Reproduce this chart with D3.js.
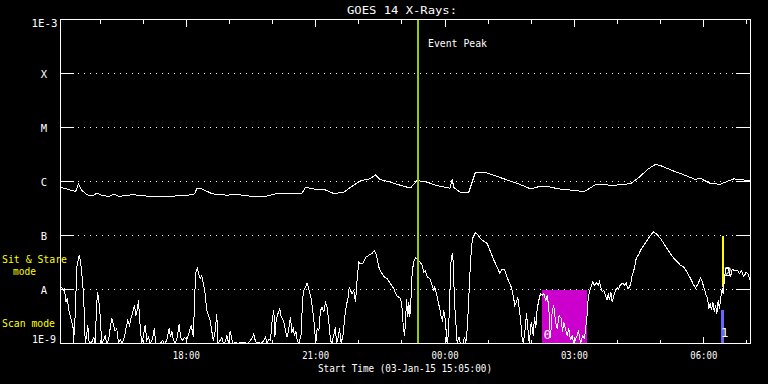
<!DOCTYPE html>
<html><head><meta charset="utf-8">
<script src="https://cdn.jsdelivr.net/npm/d3@7"></script>
<style>html,body{margin:0;padding:0;background:#000;}svg{display:block;}</style>
</head><body>
<svg id="chart" width="768" height="384"></svg>
<script>
// ---------- data ----------
const startTime = "2015-01-03T15:05:00Z";
const endTime   = "2015-01-04T07:05:00Z";
const titleText = "GOES 14 X-Rays:";
const xAxisTitle = "Start Time (03-Jan-15 15:05:00)";

// Y axis (flux, W/m^2) and class labels
const yTickValues = [1e-9, 1e-8, 1e-7, 1e-6, 1e-5, 1e-4, 1e-3];
const yTickLabels = ["1E-9", "A", "B", "C", "M", "X", "1E-3"];

// Long channel (1-8 A): minutes after start, flux
const longMin = [0,7,21,25,30,37,44,51,58,67,75,81,100,118,132,151,169,185,187,190,197,211,230,248,267,285,299,318,336,341,348,357,366,380,394,403,417,431,438,445,459,478,487,496,510,524,542,545,547,557,568,577,589,598,617,635,654,665,679,693,712,728,735,744,754,768,781,793,805,818,828,837,851,870,883,890,904,918,925,937,948,959];
const longFlux = [7.8e-7,7.4e-7,6.5e-7,8.9e-7,6.8e-7,5.7e-7,5.4e-7,6.1e-7,5.5e-7,5.3e-7,5.8e-7,5.3e-7,5.7e-7,5.4e-7,5.2e-7,5.3e-7,5.5e-7,5.7e-7,6.1e-7,7.6e-7,7.3e-7,5.9e-7,5.6e-7,5.7e-7,5.3e-7,5.3e-7,5.9e-7,6.0e-7,6.1e-7,7.8e-7,7.5e-7,7.0e-7,7.2e-7,6.0e-7,6.3e-7,7.7e-7,1.03e-6,1.12e-6,1.33e-6,1.08e-6,9.7e-7,8.1e-7,7.6e-7,1.04e-6,9.7e-7,8.4e-7,7.5e-7,1.12e-6,7.8e-7,6.2e-7,6.3e-7,1.45e-6,1.49e-6,1.37e-6,1.12e-6,9.3e-7,7.3e-7,8.0e-7,8.0e-7,7.3e-7,6.9e-7,6.5e-7,7.3e-7,8.7e-7,8.9e-7,8.4e-7,8.8e-7,9.1e-7,1.20e-6,1.72e-6,2.09e-6,1.92e-6,1.60e-6,1.29e-6,1.09e-6,1.15e-6,9.2e-7,8.9e-7,9.7e-7,1.12e-6,1.08e-6,1.03e-6];

// Short channel (0.5-4 A): minutes after start, flux
const shortMin = [1.8,3.8,5.6,7.4,9.3,12.1,15.7,17.7,18.1,20.5,22.7,26.0,27.8,29.6,31.6,33.4,34.4,36.6,38.0,39.9,43.5,46.3,48.3,50.1,51.5,52.9,54.7,56.1,57.5,59.8,62.2,64.4,66.8,69.1,71.4,73.7,76.1,78.3,80.7,83.1,85.3,89.0,91.4,93.6,96.0,98.4,100.6,103.0,104.8,106.7,108.5,109.9,111.3,113.1,115.5,117.8,120.1,122.4,124.8,128.0,130.4,132.6,138.7,141.9,144.7,147.9,151.2,153.0,154.9,157.2,159.6,162.4,165.1,167.0,169.7,172.5,175.7,179.1,181.8,185.0,186.4,188.2,190.2,192.0,194.4,196.6,199.4,201.3,203.5,205.9,208.3,210.5,212.5,215.2,217.5,218.9,222.2,224.4,226.8,229.1,231.4,233.7,236.1,238.3,240.3,243.5,245.8,255.0,259.8,264.3,267.1,268.9,270.9,272.7,275.9,279.2,282.8,285.2,287.6,289.8,292.2,294.5,296.8,298.2,300.1,302.3,305.1,307.1,309.8,311.7,313.5,315.4,317.6,320.0,321.8,323.8,325.6,327.4,329.3,331.5,334.9,336.7,338.5,343.2,346.0,348.8,351.6,353.4,355.2,357.1,359.4,361.7,364.1,366.3,368.7,371.1,373.3,375.7,377.5,382.6,384.0,385.8,388.2,390.5,393.3,395.5,397.9,399.7,401.7,403.5,405.8,408.1,410.4,412.8,415.0,417.4,421.1,424.3,428.9,433.7,436.9,439.6,442.8,446.2,449.8,454.5,459.1,463.7,467.5,470.7,473.3,475.6,477.0,478.8,480.4,481.4,483.2,484.6,486.0,487.9,489.3,491.5,493.9,497.1,499.9,503.2,505.5,507.8,510.2,513.8,517.2,519.4,520.8,523.1,525.5,527.7,529.7,531.5,533.3,535.2,536.6,538.0,539.8,541.6,543.6,545.0,546.3,548.2,550.0,551.9,554.2,556.5,560.3,562.1,563.9,565.9,567.6,569.5,571.4,573.2,577.4,580.6,584.3,588.9,593.7,598.3,602.9,607.6,611.2,614.6,617.7,620.5,623.7,627.1,629.8,632.1,634.4,636.2,638.2,640.0,641.8,643.8,646.6,648.3,650.2,652.1,654.9,657.7,659.5,661.3,663.2,665.5,667.8,670.2,672.4,675.2,677.1,679.3,681.7,684.1,686.3,688.7,691.0,693.8,696.6,698.4,700.2,702.6,704.9,707.2,709.6,711.9,714.2,718.8,720.7,723.5,726.3,729.0,732.3,734.2,736.0,738.8,740.6,742.5,745.3,748.1,749.9,751.7,753.7,755.9,758.3,760.6,762.0,763.8,765.6,767.6,769.8,772.2,774.6,776.8,779.1,782.3,785.1,787.1,789.3,791.6,793.5,795.4,798.2,801.0,803.8,807.0,811.6,816.3,820.9,825.5,830.2,834.8,839.4,844.1,848.7,853.3,858.0,862.6,867.2,871.9,876.5,881.1,883.5,887.3,890.4,892.8,895.6,898.3,900.2,902.0,904.0,905.8,907.6,909.6,911.3,913.2,915.1,916.9,918.3,920.7,922.0,923.4,925.2,929.0,932.2,934.6,938.2,941.5,944.7,947.5,950.7,954.0,956.8,959.0];
const shortFlux = [1.1e-8,9.6e-9,1.03e-8,5.8e-9,6.7e-9,3.8e-9,2.5e-9,1.9e-9,1e-9,3.5e-9,2.6e-8,4.3e-8,3.4e-8,2.0e-8,9.6e-9,3.1e-9,1e-9,1.5e-9,2.2e-9,1e-9,1.06e-9,1.3e-9,1e-9,4.7e-9,8.9e-9,6.7e-9,4.1e-9,1.9e-9,1e-9,1.14e-9,1.4e-9,1e-9,1.14e-9,1.9e-9,2.9e-9,2.2e-9,1.7e-9,1.9e-9,1e-9,1.2e-9,1e-9,1.3e-9,2.0e-9,2.7e-9,2.2e-9,3.1e-9,3.8e-9,5.1e-9,3.3e-9,4.1e-9,6.3e-9,3.1e-9,1.7e-9,1e-9,1.4e-9,2.2e-9,1.14e-9,1.3e-9,1e-9,1.2e-9,1.9e-9,1e-9,1e-9,1.14e-9,1e-9,1.14e-9,1.9e-9,1.3e-9,1.7e-9,1.14e-9,1e-9,1.3e-9,2.3e-9,1.3e-9,1.14e-9,1.3e-9,1.2e-9,1.6e-9,2.2e-9,1.3e-9,6.3e-9,2.0e-8,2.5e-8,2.0e-8,1.58e-8,1.8e-8,1.19e-8,8.3e-9,4.1e-9,3.3e-9,2.7e-9,1.7e-9,1.14e-9,1.7e-9,3.5e-9,1e-9,1.14e-9,1.3e-9,1e-9,1.06e-9,1.4e-9,1e-9,1.7e-9,1.2e-9,1e-9,1.06e-9,1e-9,1.06e-9,1e-9,1.14e-9,1.3e-9,1.5e-9,1.14e-9,1e-9,1.06e-9,1e-9,1.14e-9,1.3e-9,1e-9,1.2e-9,1.14e-9,2.7e-9,4.1e-9,1.3e-9,2.7e-9,3.5e-9,4.4e-9,3.1e-9,2.7e-9,2.2e-9,1.6e-9,1.3e-9,1.9e-9,3.1e-9,1.6e-9,1.9e-9,1.4e-9,1.7e-9,1.14e-9,1e-9,1.5e-9,6.3e-9,9.6e-9,1.31e-8,9.6e-9,6.7e-9,3.5e-9,2.0e-9,1e-9,1.9e-9,1.7e-9,4.1e-9,4.7e-9,3.8e-9,5.8e-9,4.7e-9,2.5e-9,1.14e-9,1e-9,2.0e-9,1e-9,1.2e-9,1.9e-9,1e-9,1.5e-9,3.1e-9,5.4e-9,6.3e-9,1.1e-8,9.6e-9,8.3e-9,9.6e-9,5.8e-9,1.58e-8,3.2e-8,3.0e-8,3.1e-8,3.9e-8,4.3e-8,4.7e-8,5.3e-8,4.3e-8,2.6e-8,2.1e-8,1.74e-8,1.58e-8,1.28e-8,1.03e-8,7.7e-9,7.2e-9,6.8e-9,4.1e-9,1.9e-9,1.4e-9,3.1e-9,6.8e-9,3.1e-9,5.9e-9,3.1e-9,7.8e-9,2.1e-8,3.3e-8,3.9e-8,3.5e-8,3.3e-8,2.8e-8,2.1e-8,2.2e-8,1.72e-8,1.6e-8,1.2e-8,9.7e-9,1.12e-8,8.4e-9,5.9e-9,4.4e-9,3.1e-9,2.7e-9,4.1e-9,2.9e-9,1.65e-9,1e-9,1.5e-9,7.8e-9,4.0e-8,4.4e-8,3.3e-8,5.9e-9,2.5e-9,1e-9,1.33e-9,1e-9,1e-9,1.33e-9,1e-9,1.9e-9,5.1e-9,1.84e-8,5.0e-8,8.8e-8,1.14e-7,1.04e-7,8.8e-8,7.8e-8,7.1e-8,5.0e-8,3.5e-8,2.6e-8,1.98e-8,2.4e-8,2.3e-8,1.84e-8,1.39e-8,1.12e-8,7.8e-9,5.1e-9,5.9e-9,7.3e-9,4.4e-9,2.9e-9,1.4e-9,1e-9,1.9e-9,3.6e-9,1.9e-9,1e-9,2.5e-9,1.4e-9,3.1e-9,1.9e-9,4.4e-9,6.3e-9,8.4e-9,7.8e-9,8.4e-9,6.3e-9,7.8e-9,4.8e-9,1.24e-9,3.9e-9,5.1e-9,2.5e-9,1.9e-9,3.3e-9,2.9e-9,1.65e-9,2.5e-9,1.9e-9,1.4e-9,1.9e-9,1.15e-9,1.4e-9,1e-9,1.4e-9,1.76e-9,1e-9,1.4e-9,1.24e-9,2.9e-9,6.8e-9,9.1e-9,1.2e-8,1.39e-8,1.17e-8,1.35e-8,1.2e-8,1.39e-8,1.12e-8,9.1e-9,9.7e-9,7.8e-9,6.3e-9,8.4e-9,6.3e-9,9.1e-9,5.9e-9,7.8e-9,9.7e-9,1.07e-8,1.04e-8,1.24e-8,1.29e-8,1.2e-8,1.33e-8,1.04e-8,1.12e-8,1.29e-8,1.84e-8,2.4e-8,3.75e-8,4.3e-8,5.3e-8,6.6e-8,8.2e-8,1.01e-7,1.17e-7,1.04e-7,8.8e-8,7.1e-8,5.7e-8,4.6e-8,3.75e-8,3.3e-8,2.8e-8,2.6e-8,2.1e-8,1.6e-8,1.2e-8,1.07e-8,1.29e-8,1.65e-8,1.39e-8,1.04e-8,7.8e-9,6.8e-9,4.4e-9,5.5e-9,4.1e-9,5.9e-9,3.9e-9,5.1e-9,3.6e-9,6.3e-9,4.4e-9,6.8e-9,1.04e-8,8.4e-9,1.39e-8,2.4e-8,2.5e-8,1.72e-8,2.4e-8,2.2e-8,2.3e-8,1.98e-8,2.2e-8,1.72e-8,2.1e-8,1.9e-8,1.49e-8];

// Event peak (minutes after start)
const eventPeakMin = 497;
const eventPeakLabel = "Event Peak";

// Observation-mode markers: [startMin, endMin], [lowFlux, highFlux]
const modeSpans = [
  {name: "window0", range: [670.6, 733.2], flux: [1e-9, 1e-8], color: "#cc00cc"},
  {name: "scan",    range: [918.3, 922.5], flux: [1e-9, 4.1e-9], color: "#6666ff"},
  {name: "sitStare",range: [921.0, 923.8], flux: [1.13e-8, 1e-7], color: "#ffff00"}
];
// Annotation numbers
const annotMin  = [677.6, 924.2, 928.7];
const annotFlux = [1.47e-9, 1.6e-9, 2.16e-8];
const annotText = ["0", "1", "2"];

const modeLabels = ["Sit & Stare", "mode", "Scan mode"];

// ---------- drawing ----------
const svg = d3.select("#chart");
const FONT = "DejaVu Sans Mono, monospace";
const FS = 10.5;
svg.append("rect").attr("width", 768).attr("height", 384).attr("fill", "#000");

const t0 = new Date(startTime), t1 = new Date(endTime);
const tm = m => new Date(t0.getTime() + m * 60000);
const x = d3.scaleUtc().domain([t0, t1]).range([60.5, 750.5]);
const y = d3.scaleLog().domain([1e-9, 1e-3]).range([343.5, 19.5]);

function txt(sel, len) {
  if (len) sel.attr("textLength", len).attr("lengthAdjust", "spacingAndGlyphs");
  return sel;
}

const defs = svg.append("defs");
defs.append("clipPath").attr("id", "clip").append("rect")
  .attr("x", 60).attr("y", 19).attr("width", 691).attr("height", 325);

// dotted grid + side ticks
const mids = yTickValues.slice(1, -1);
const grid = svg.append("g").attr("stroke", "#fff").attr("shape-rendering", "crispEdges");
mids.forEach(v => {
  const yy = Math.round(y(v) - 0.5) + 0.5;
  grid.append("line").attr("x1", 60.5).attr("x2", 74).attr("y1", yy).attr("y2", yy);
  grid.append("line").attr("x1", 736).attr("x2", 750.5).attr("y1", yy).attr("y2", yy);
  grid.append("line").attr("x1", 78).attr("x2", 736).attr("y1", yy).attr("y2", yy)
    .attr("stroke-dasharray", "1,5");
});

// mode rectangles
const plot = svg.append("g").attr("clip-path", "url(#clip)");
modeSpans.forEach(s => {
  const xa = x(tm(s.range[0])), xb = x(tm(s.range[1]));
  const ya = y(s.flux[1]), yb = y(s.flux[0]);
  plot.append("rect").attr("x", xa).attr("y", ya).attr("width", xb - xa).attr("height", yb - ya)
    .attr("fill", s.color).attr("shape-rendering", "crispEdges");
});

// curves
const line = d3.line().x(d => x(tm(d[0]))).y(d => y(d[1]));
const longData = longMin.map((m, i) => [m, longFlux[i]]);
const shortData = shortMin.map((m, i) => [m, shortFlux[i]]);
[longData, shortData].forEach(data => {
  plot.append("path").datum(data).attr("d", line)
    .attr("fill", "none").attr("stroke", "#fff").attr("stroke-width", 1)
    .attr("shape-rendering", "crispEdges");
});

// annotations
annotText.forEach((t, i) => {
  svg.append("text").attr("x", x(tm(annotMin[i]))).attr("y", y(annotFlux[i]) + 5)
    .attr("text-anchor", "middle").attr("fill", "#fff")
    .attr("font-family", FONT).attr("font-size", 13).text(t);
});

// event peak line
const xe = x(tm(eventPeakMin));
svg.append("line").attr("x1", xe).attr("x2", xe).attr("y1", 19.5).attr("y2", 343.5)
  .attr("stroke", "#99cc00").attr("stroke-width", 2).attr("shape-rendering", "crispEdges");
txt(svg.append("text").attr("x", 428).attr("y", 47).attr("fill", "#fff")
  .attr("font-family", FONT).attr("font-size", FS), 59).text(eventPeakLabel);

// frame
svg.append("rect").attr("x", 60.5).attr("y", 19.5).attr("width", 690).attr("height", 324)
  .attr("fill", "none").attr("stroke", "#fff").attr("shape-rendering", "crispEdges");

// x ticks
const hours = x.ticks(d3.utcHour.every(1));
const tg = svg.append("g").attr("stroke", "#fff").attr("shape-rendering", "crispEdges");
hours.forEach(h => {
  const xx = Math.round(x(h) - 0.5) + 0.5;
  const major = h.getUTCHours() % 3 === 0;
  const len = major ? 7 : 4;
  tg.append("line").attr("x1", xx).attr("x2", xx).attr("y1", 19.5).attr("y2", 19.5 + len);
  tg.append("line").attr("x1", xx).attr("x2", xx).attr("y1", 343.5).attr("y2", 343.5 - len);
  if (major) {
    txt(svg.append("text").attr("x", x(h)).attr("y", 358.5).attr("text-anchor", "middle")
      .attr("fill", "#fff").attr("font-family", FONT).attr("font-size", FS), 27)
      .text(d3.utcFormat("%H:%M")(h));
  }
});

// y labels
yTickValues.forEach((v, i) => {
  const lab = yTickLabels[i];
  const t = svg.append("text").attr("fill", "#fff").attr("font-family", FONT).attr("font-size", FS);
  if (i === 0) {
    txt(t.attr("x", 56).attr("y", y(v) - 0.5).attr("text-anchor", "end"), 24);
  } else if (i === yTickValues.length - 1) {
    txt(t.attr("x", 57.5).attr("y", y(v) + 7.5).attr("text-anchor", "end"), 26);
  } else {
    t.attr("x", 44).attr("y", y(v) + 4).attr("text-anchor", "middle");
  }
  t.text(lab);
});

// mode labels (yellow)
const yl = svg.append("g").attr("fill", "#ffff00").attr("font-family", FONT).attr("font-size", FS);
txt(yl.append("text").attr("x", 2).attr("y", 262.5), 65).text(modeLabels[0]);
txt(yl.append("text").attr("x", 13).attr("y", 274.5), 23).text(modeLabels[1]);
txt(yl.append("text").attr("x", 2).attr("y", 327), 53).text(modeLabels[2]);

// titles
txt(svg.append("text").attr("x", 402).attr("y", 14).attr("text-anchor", "middle").attr("fill", "#fff")
  .attr("font-family", FONT).attr("font-size", 11), 110).text(titleText);
txt(svg.append("text").attr("x", 405).attr("y", 371.5).attr("text-anchor", "middle").attr("fill", "#fff")
  .attr("font-family", FONT).attr("font-size", FS), 174).text(xAxisTitle);
</script>
</body></html>
